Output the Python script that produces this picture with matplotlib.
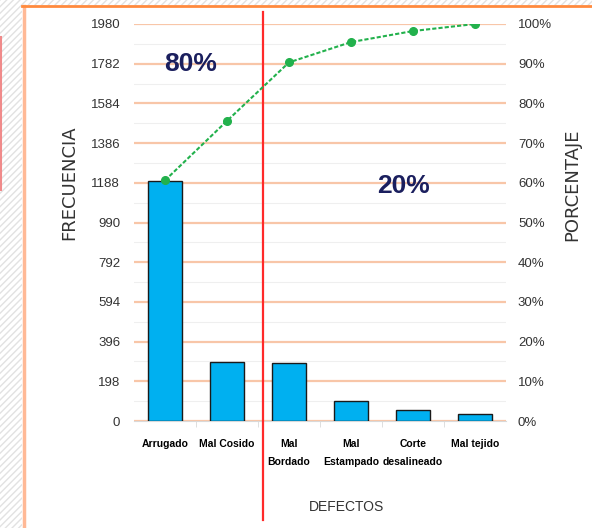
import matplotlib
matplotlib.use("Agg")
import matplotlib.pyplot as plt
from matplotlib.patches import Rectangle
from matplotlib.lines import Line2D
import numpy as np

# Data
defectos = ["Arrugado", "Mal Cosido", "Mal\nBordado", "Mal\nEstampado", "Corte\ndesalineado", "Mal tejido"]
frecuencia = [1197, 296, 291, 101, 55, 35]
y_ticks = [0, 198, 396, 594, 792, 990, 1188, 1386, 1584, 1782, 1980]
pct_ticks = [0, 10, 20, 30, 40, 50, 60, 70, 80, 90, 100]

total = sum(frecuencia)
acumulado = np.cumsum(frecuencia) / total * 100

narrow = ["Liberation Sans", "DejaVu Sans"]

fig = plt.figure(figsize=(5.92, 5.28), dpi=100)
W, H = 592, 528

# hatched strips (left and top) + frame lines
fig.patches.append(Rectangle((0, 0), 22 / W, 1, transform=fig.transFigure,
                             facecolor="white", edgecolor="#e2e2e2", hatch="/////", lw=0, zorder=0))
fig.patches.append(Rectangle((22 / W, 1 - 5 / H), 1, 5 / H, transform=fig.transFigure,
                             facecolor="white", edgecolor="#e2e2e2", hatch="/////", lw=0, zorder=0))
fig.lines.append(Line2D([23.5 / W, 23.5 / W], [0, 1 - 6 / H], transform=fig.transFigure,
                        color="#FFB996", lw=2.5))
fig.lines.append(Line2D([22 / W, 1], [1 - 6 / H, 1 - 6 / H], transform=fig.transFigure,
                        color="#FF8A3D", lw=2))
fig.lines.append(Line2D([0.6 / W, 0.6 / W], [1 - 190 / H, 1 - 37 / H], transform=fig.transFigure,
                        color="#F08A8A", lw=1.5))

ax = fig.add_axes([134 / W, 107 / H, 372 / W, 397 / H])
x = np.arange(len(defectos))
ax.bar(x, frecuencia, width=0.56, color="#00B0F0", edgecolor="#1a1a1a", linewidth=1, zorder=3)
ax.set_xlim(-0.5, len(defectos) - 0.5)
ax.set_ylim(0, 1980)
ax.set_yticks(y_ticks)
ax.set_yticks(np.arange(99, 1980, 198), minor=True)
ax.grid(axis="y", which="major", color="#F8C6A8", lw=1.6, zorder=0)
ax.grid(axis="y", which="minor", color="#EFEFEF", lw=0.8, zorder=0)
for s in ["top", "right", "left"]:
    ax.spines[s].set_visible(False)
ax.spines["bottom"].set_color("#d9d9d9")
ax.tick_params(axis="y", which="both", length=0, pad=10, labelsize=9.5)
ax.set_xticks(x)
ax.set_xticklabels(defectos)
ax.set_xticks(np.arange(0.5, len(defectos) - 0.5, 1), minor=True)
ax.tick_params(axis="x", which="major", length=0, pad=13, labelsize=7.5)
ax.tick_params(axis="x", which="minor", length=4, color="#d9d9d9")
for lab in ax.get_xticklabels():
    lab.set_family(narrow)
    lab.set_fontweight("bold")
    lab.set_linespacing(2.0)
for lab in ax.get_yticklabels():
    lab.set_family(narrow)
    lab.set_color("#333333")

ax2 = ax.twinx()
ax2.plot(x, acumulado, color="#22B14C", lw=1.5, linestyle=(0, (2, 1)),
         marker="o", markersize=5.5, zorder=5)
ax2.set_ylim(0, 100)
ax2.set_yticks(pct_ticks)
ax2.set_yticklabels([f"{p}%" for p in pct_ticks])
for s in ["top", "right", "left", "bottom"]:
    ax2.spines[s].set_visible(False)
ax2.tick_params(axis="y", length=0, pad=8.6, labelsize=9.5)
for lab in ax2.get_yticklabels():
    lab.set_family(narrow)
    lab.set_color("#333333")

# 80/20 divider
ax.axvline(1.585, ymin=-0.249, ymax=1.03, color="#FF2A2A", lw=1.6, clip_on=False, zorder=6)
ax.text(0.42, 1780, "80%", ha="center", va="center", fontsize=19, fontweight="bold",
        color="#1B1F5E", family=narrow, zorder=7)
ax.text(3.84, 1172, "20%", ha="center", va="center", fontsize=19, fontweight="bold",
        color="#1B1F5E", family=narrow, zorder=7)

fig.text(69 / W, 1 - 183 / H, "FRECUENCIA", rotation=90, ha="center", va="center",
         fontsize=13, color="#333333")
fig.text(572 / W, 1 - 185 / H, "PORCENTAJE", rotation=90, ha="center", va="center",
         fontsize=13, color="#333333")
fig.text(347 / W, 1 - 507 / H, "DEFECTOS", ha="center", va="center",
         fontsize=10, color="#333333", family=narrow)

fig.savefig("out.png", dpi=100)
